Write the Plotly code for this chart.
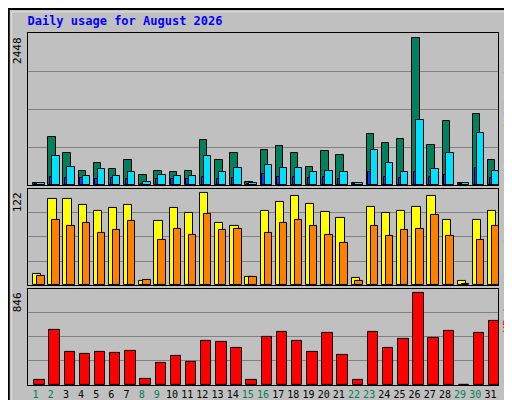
import plotly.graph_objects as go
from plotly.subplots import make_subplots

days = list(range(1, 32))
weekend = [1, 2, 8, 9, 15, 16, 22, 23, 29, 30]

hits = [28, 805, 538, 239, 372, 272, 422, 172, 239, 222, 239, 755, 422, 538, 44, 588,
        655, 538, 305, 572, 505, 28, 855, 705, 771, 2448, 672, 1071, 28, 1188, 422]
files = [28, 488, 305, 155, 272, 155, 222, 55, 172, 155, 155, 488, 222, 289, 28, 339,
         289, 289, 222, 239, 222, 28, 588, 372, 222, 1088, 272, 538, 28, 871, 239]
pages = [10, 139, 120, 110, 105, 110, 105, 20, 105, 100, 100, 139, 105, 120, 15, 190,
         139, 139, 120, 139, 105, 10, 211, 139, 120, 211, 139, 160, 10, 289, 120]
visits = [14, 114, 113, 105, 98, 102, 106, 6, 85, 102, 95, 122, 82, 78, 11, 98,
          110, 118, 107, 97, 88, 9, 103, 95, 98, 103, 118, 86, 5, 86, 98]
sites = [12, 86, 78, 82, 69, 72, 85, 7, 60, 74, 66, 94, 73, 74, 11, 69,
         82, 86, 78, 66, 55, 6, 78, 65, 73, 74, 93, 65, 2, 59, 78]
kbytes = [43, 504, 301, 283, 301, 292, 311, 52, 200, 265, 209, 403, 394, 338, 43, 440,
          486, 403, 301, 477, 274, 43, 486, 338, 421, 846, 431, 495, 5, 477, 588]

GREEN = '#00805C'
MONO = 'DejaVu Sans Mono'

fig = make_subplots(rows=3, cols=1, shared_xaxes=True, vertical_spacing=0)

def bars(y, color, offset, width, row):
    fig.add_trace(go.Bar(x=days, y=y, marker_color=color, offset=offset, width=width,
                         marker_line=dict(color='black', width=1), showlegend=False),
                  row=row, col=1)

bars(hits, GREEN, -0.16, 0.49, 1)
bars(files, '#00E0FF', 0.1, 0.49, 1)
bars(pages, '#0040FF', -0.05, 0.15, 1)
bars(visits, '#FFFF00', -0.16, 0.55, 2)
bars(sites, '#FF8000', 0.1, 0.49, 2)
bars(kbytes, '#FF0000', -0.09, 0.69, 3)

ranges = {1: 2526, 2: 126.7, 3: 886}
domains = {1: [0.568, 1.0], 2: [0.284, 0.557], 3: [0.0, 0.273]}
for r in (1, 2, 3):
    R = ranges[r]
    fig.update_yaxes(range=[0, R], tickvals=[R / 4, R / 2, 3 * R / 4], showticklabels=False,
                     gridcolor='#808080', gridwidth=1, zeroline=False, domain=domains[r],
                     showline=True, mirror=True, linecolor='black', row=r, col=1)
    fig.update_xaxes(range=[0.5, 31.5], showgrid=False, showline=True, mirror=True,
                     linecolor='black', row=r, col=1)

ticktext = [f"<span style='color:{GREEN}'>{d}</span>" if d in weekend else str(d) for d in days]
fig.update_xaxes(tickmode='array', tickvals=days, ticktext=ticktext, ticks='', tickangle=0,
                 tickfont=dict(family=MONO, size=10, color='black'), row=3, col=1)

fig.update_layout(
    width=512, height=400,
    margin=dict(l=20, r=22, t=25, b=23, autoexpand=False),
    paper_bgcolor='#C0C0C0', plot_bgcolor='#C0C0C0',
    barmode='overlay', bargap=0,
    title=dict(text='<b>Daily usage for August 2026</b>', x=0.038, xanchor='left', y=0.967,
               yanchor='middle', font=dict(family=MONO, size=12, color='#0000FF')),
)

# Max value labels on the left
for r, txt in ((1, '2448'), (2, '122'), (3, '846')):
    fig.add_annotation(text=txt, xref='paper', yref='paper', x=-0.004, y=domains[r][1] - 0.005,
                       xanchor='right', yanchor='top', textangle=-90, showarrow=False,
                       font=dict(family=MONO, size=11, color='black'))

# Right side legends
right = [
    (1, "<span style='color:#00E0FF'>Pages</span> / <span style='color:#0040FF'>Files</span>"
        f" / <span style='color:{GREEN}'>Hits</span>"),
    (2, "<span style='color:#FF8000'>Sites</span> / <span style='color:#FFFF00'>Visits</span>"),
    (3, "<span style='color:#FF0000'>KBytes</span>"),
]
for r, txt in right:
    fig.add_annotation(text=txt, xref='paper', yref='paper', x=1.003, y=domains[r][1] - 0.005,
                       xanchor='left', yanchor='top', textangle=-90, showarrow=False,
                       font=dict(family=MONO, size=11, color='black'))

# Outer frame
fig.add_shape(type='rect', xref='paper', yref='paper', x0=-0.041, x1=1.045, y0=-0.063, y1=1.068,
              line=dict(color='black', width=2), fillcolor='rgba(0,0,0,0)')
fig.add_shape(type='rect', xref='paper', yref='paper', x0=-0.035, x1=1.037, y0=-0.054, y1=1.060,
              line=dict(color='#E0E0E0', width=1), fillcolor='rgba(0,0,0,0)')

fig.write_html("out.html")
